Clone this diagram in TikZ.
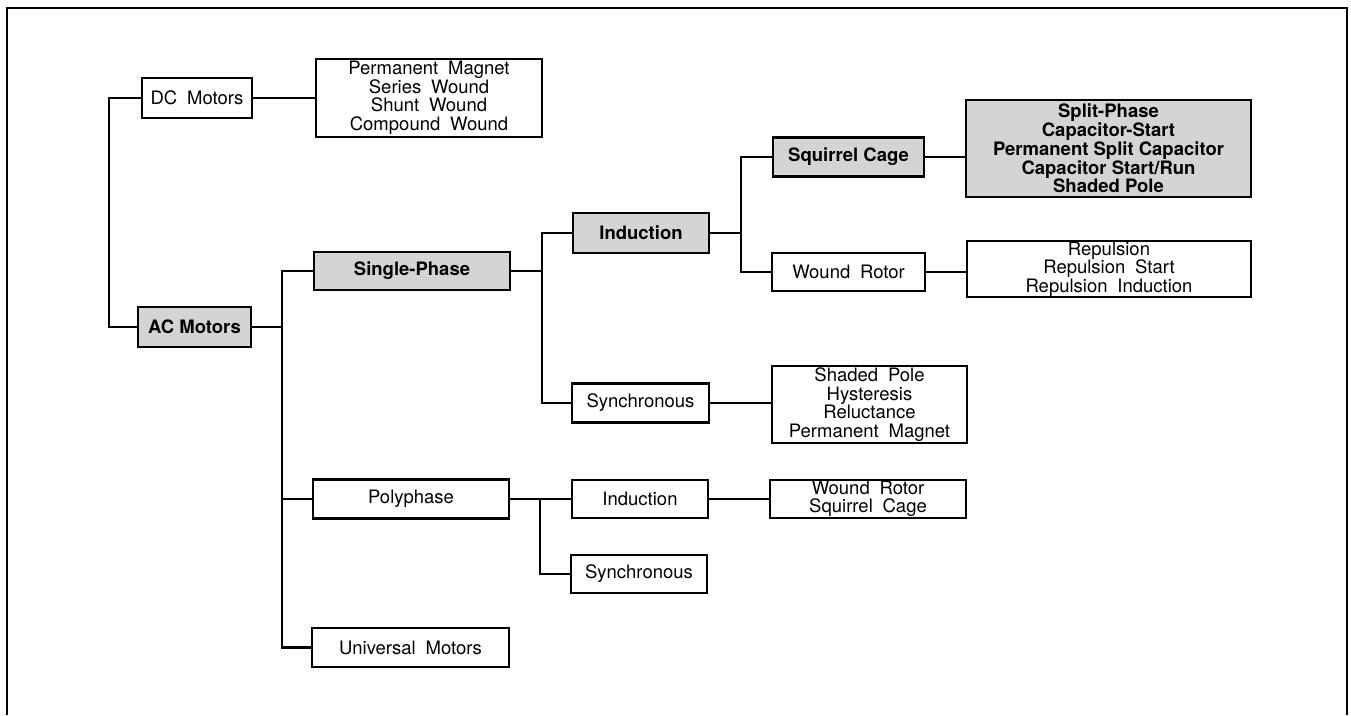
\documentclass[tikz,border=0pt]{standalone}
\usepackage{fontspec}
\setmainfont{TeX Gyre Heros}[WordSpace=1.9]
\newfontfamily\boldfont{TeX Gyre Heros}
\usepackage{tikz}
\definecolor{boxgray}{RGB}{212,212,214}

\begin{document}
\begin{tikzpicture}[
    x=1pt, y=-1pt,
    box/.style={draw, line width=2.6pt, inner sep=0pt, outer sep=0pt, align=center,
        font={\fontsize{18.5}{18.5}\selectfont}},
    shaded/.style={box, fill=boxgray,
        font={\boldfont\bfseries\fontsize{18.5}{17.5}\selectfont}},
    link/.style={line width=2.6pt}
]
    \useasboundingbox (0,0) rectangle (1351,715);
    \draw[line width=1.8pt] (7,715) -- (7,8) -- (1347,8) -- (1347,715);

    % Define nodes
    \node[box, minimum width=110pt, minimum height=40pt] (dc_motors) at (197,98) {DC Motors};
    \node[box, minimum width=226pt, minimum height=78pt] (dc_types) at (429,98)
        {Permanent Magnet\\Series Wound\\Shunt Wound\\Compound Wound};
    \node[shaded, minimum width=113pt, minimum height=40pt] (ac_motors) at (194.5,327) {AC Motors};
    \node[shaded, minimum width=196pt, minimum height=38pt] (single_phase) at (412,271) {Single-Phase};
    \node[shaded, minimum width=136pt, minimum height=40pt] (induction_sp) at (641,233) {Induction};
    \node[shaded, minimum width=151pt, minimum height=39pt] (squirrel_cage) at (848.5,157) {Squirrel Cage};
    \node[shaded, minimum width=285pt, minimum height=97pt] (cage_types) at (1108.5,148.5)
        {Split-Phase\\Capacitor-Start\\Permanent Split Capacitor\\Capacitor Start/Run\\Shaded Pole};
    \node[box, minimum width=153pt, minimum height=38pt] (wound_rotor) at (848.5,272) {Wound Rotor};
    \node[box, minimum width=284pt, minimum height=56pt] (rotor_types) at (1109,269)
        {Repulsion\\Repulsion Start\\Repulsion Induction};
    \node[box, minimum width=137pt, minimum height=39pt] (synchronous_sp) at (640.5,403) {Synchronous};
    \node[box, minimum width=195pt, minimum height=77pt] (sync_types) at (869.5,404.5)
        {Shaded Pole\\Hysteresis\\Reluctance\\Permanent Magnet};
    \node[box, minimum width=196pt, minimum height=39pt] (polyphase) at (411,499) {Polyphase};
    \node[box, minimum width=136pt, minimum height=38pt] (induction_pp) at (640,499) {Induction};
    \node[box, minimum width=196pt, minimum height=38pt] (poly_types) at (868,499)
        {Wound Rotor\\Squirrel Cage};
    \node[box, minimum width=136pt, minimum height=38pt] (synchronous_pp) at (639,574) {Synchronous};
    \node[box, minimum width=197pt, minimum height=39pt] (universal) at (410.5,647.5) {Universal Motors};

    % Junctions
    \coordinate (j_main) at (109,98);
    \coordinate (j_ac) at (282,327);
    \coordinate (j_single) at (542,271);
    \coordinate (j_ind) at (741,233);
    \coordinate (j_poly) at (540,499);

    % Connectors
    \draw[link] (dc_motors.west) -- (j_main) |- (ac_motors.west);
    \draw[link] (dc_motors.east) -- (dc_types.west);
    \draw[link] (ac_motors.east) -- (j_ac);
    \draw[link] (single_phase.west) -| (j_ac) |- (universal.west);
    \draw[link] (polyphase.west) -- (polyphase.west -| j_ac);
    \draw[link] (single_phase.east) -- (j_single);
    \draw[link] (induction_sp.west) -| (j_single) |- (synchronous_sp.west);
    \draw[link] (induction_sp.east) -- (j_ind);
    \draw[link] (squirrel_cage.west) -| (j_ind) |- (wound_rotor.west);
    \draw[link] (squirrel_cage.east) -- (squirrel_cage.east -| cage_types.west);
    \draw[link] (wound_rotor.east) -- (wound_rotor.east -| rotor_types.west);
    \draw[link] (synchronous_sp.east) -- (synchronous_sp.east -| sync_types.west);
    \draw[link] (polyphase.east) -- (induction_pp.west);
    \draw[link] (j_poly) |- (synchronous_pp.west);
    \draw[link] (induction_pp.east) -- (poly_types.west);
\end{tikzpicture}
\end{document}
